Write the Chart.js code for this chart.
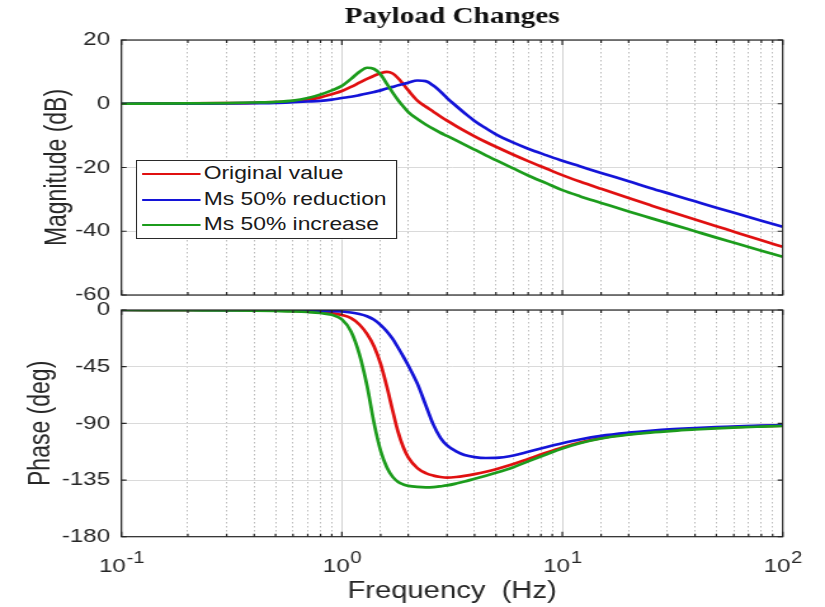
<!DOCTYPE html>
<html>
<head>
<meta charset="utf-8">
<title>Payload Changes</title>
<script src="https://cdn.jsdelivr.net/npm/chart.js@4.4.1/dist/chart.umd.min.js"></script>
<style>
  html, body { margin: 0; padding: 0; background: #fff; overflow: hidden; }
  /* figure is laid out 650px wide and stretched to 825px */
  #figure { position: absolute; left: 0; top: 0; width: 650px; height: 607px;
            transform: scaleX(1.2692); transform-origin: 0 0; }
  #magPanel { position: absolute; left: 0; top: 0; }
  #phasePanel { position: absolute; left: 0; top: 302px; }
  #legend { position: absolute; left: 107px; top: 160px; width: 206px; height: 79px;
            box-sizing: border-box; border: 1px solid #2a2a2a; background: #fff;
            font: 18px 'Liberation Sans', Arial, sans-serif; color: #1a1a1a; }
  #legend .row { position: relative; height: 25.5px; line-height: 25.5px; white-space: nowrap; }
  #legend .swatch { position: absolute; left: 3.5px; top: 12px; width: 46px; height: 2px; }
  #legend .text { position: absolute; left: 52.5px; top: 0; }
</style>
</head>
<body>
<div id="figure">
  <canvas id="magPanel" width="650" height="302"></canvas>
  <canvas id="phasePanel" width="650" height="305"></canvas>
  <div id="legend"></div>
</div>
<script>
// frequency points (Hz) and Bode response of the three payload cases
const freqHz = [0.1, 0.2, 0.3, 0.4, 0.5, 0.6, 0.7, 0.8, 0.9, 1.0,
                1.1, 1.2, 1.3, 1.4, 1.5, 1.6, 1.7, 1.8, 1.9, 2.0,
                2.2, 2.4, 2.6, 2.8, 3.0, 3.3, 3.6, 4.0, 4.5, 5.0,
                6.0, 7.0, 8.5, 10, 12, 15, 20, 25, 32, 40,
                50, 63, 80, 100];

const magOriginal = [0.0, 0.1, 0.2, 0.3, 0.5, 0.8, 1.3, 2.0, 3.0, 4.0,
                     5.3, 6.6, 7.8, 8.8, 9.6, 10.0, 9.5, 8.0, 6.1, 4.2,
                     1.0, -0.9, -2.5, -4.0, -5.3, -7.0, -8.5, -10.2, -12.0, -13.5,
                     -16.0, -18.0, -20.4, -22.4, -24.4, -26.7, -29.6, -31.8, -34.2, -36.3,
                     -38.4, -40.6, -42.8, -44.9];
const magReduced = [0.0, 0.05, 0.1, 0.2, 0.3, 0.5, 0.7, 0.9, 1.3, 1.8,
                    2.2, 2.7, 3.2, 3.7, 4.2, 4.8, 5.3, 5.8, 6.2, 6.6,
                    7.3, 7.1, 5.7, 3.8, 1.8, -0.7, -2.9, -5.4, -7.7, -9.6,
                    -12.2, -14.1, -16.2, -17.9, -19.6, -21.7, -24.3, -26.4, -28.6, -30.6,
                    -32.6, -34.6, -36.7, -38.6];
const magIncreased = [0.0, 0.1, 0.2, 0.4, 0.6, 1.0, 1.8, 2.9, 4.2, 5.6,
                      7.8, 10.0, 11.3, 10.9, 9.2, 6.2, 3.5, 1.1, -0.9, -2.6,
                      -4.8, -6.5, -7.9, -9.1, -10.1, -11.5, -12.8, -14.4, -16.2, -17.7,
                      -20.3, -22.5, -25.0, -27.1, -29.0, -31.1, -33.8, -35.8, -38.0, -40.0,
                      -42.0, -44.0, -46.1, -48.0];

const phaseOriginal = [0, -0.1, -0.2, -0.3, -0.5, -0.7, -1.0, -1.6, -2.5, -4.0,
                       -6.5, -11.5, -19, -29, -43, -61, -80, -97, -109, -117,
                       -125.5, -129.5, -131.5, -132.6, -133.1, -132.6, -131.7, -130.3, -128.4, -126.4,
                       -122.3, -118.3, -113.2, -109.2, -105.3, -101.7, -98.6, -96.8, -95.3, -94.3,
                       -93.5, -92.8, -92.2, -91.8];
const phaseReduced = [0, 0, -0.1, -0.2, -0.3, -0.4, -0.5, -0.7, -0.9, -1.2,
                      -2.0, -3.2, -5.0, -7.8, -12, -17, -23, -30, -37, -44,
                      -58.5, -75.5, -91, -101.5, -107.5, -112.3, -115.2, -116.8, -117.5, -117.4,
                      -115.5, -112.6, -108.8, -105.8, -102.8, -99.9, -97.4, -95.9, -94.6, -93.7,
                      -93.0, -92.4, -91.8, -91.4];
const phaseIncreased = [0, -0.2, -0.3, -0.5, -0.8, -1.1, -1.6, -2.4, -3.8, -7.5,
                        -17, -35, -60, -90, -112, -125, -132.5, -136.5, -138.5, -139.6,
                        -140.5, -140.8, -140.6, -140.0, -139.3, -137.8, -136.2, -134.0, -131.6, -129.3,
                        -124.8, -120.2, -114.6, -110.0, -105.8, -102.0, -99.0, -97.3, -95.9, -94.9,
                        -94.0, -93.2, -92.6, -92.1];

const seriesNames = ['Original value', 'Ms 50% reduction', 'Ms 50% increase'];
const freqRange = [0.1, 100];
const magRange = [-60, 20];
const phaseRange = [-180, 0];
const magStep = 20;
const phaseStep = 45;

const colors = { original: '#e01010', reduced: '#1414d8', increased: '#1c9c1c' };
const sans = "'Liberation Sans', Arial, sans-serif";
const ink = '#262626';

function isDecade(v) {
  const e = Math.log10(v);
  return Math.abs(e - Math.round(e)) < 1e-6;
}

function makeDatasets(a, b, c) {
  const pts = arr => freqHz.map((f, i) => ({ x: f, y: arr[i] }));
  const line = { pointRadius: 0, borderWidth: 2.7, fill: false, cubicInterpolationMode: 'monotone' };
  return [
    Object.assign({ label: seriesNames[0], data: pts(a), borderColor: colors.original, order: 3 }, line),
    Object.assign({ label: seriesNames[1], data: pts(b), borderColor: colors.reduced, order: 2 }, line),
    Object.assign({ label: seriesNames[2], data: pts(c), borderColor: colors.increased, order: 1 }, line)
  ];
}

// log frequency axis with solid decade lines and dotted minor lines
function freqAxis(height) {
  return {
    type: 'logarithmic', min: freqRange[0], max: freqRange[1],
    afterFit: s => { s.height = height; s.paddingLeft = 0; s.paddingRight = 0; },
    grid: {
      drawTicks: false, lineWidth: 1,
      color: c => (c.tick && isDecade(c.tick.value)) ? '#d4d4d4' : '#bdbdbd'
    },
    border: { display: false, dash: c => (c.tick && !isDecade(c.tick.value)) ? [1.5, 2.5] : [] },
    ticks: { display: false }
  };
}

function valueAxis(range, step, title, titlePad) {
  return {
    type: 'linear', min: range[0], max: range[1],
    afterFit: s => { s.width = 95.7; s.paddingTop = 0; s.paddingBottom = 0; },
    grid: { drawTicks: false, color: '#dadada', lineWidth: 1 },
    border: { display: false },
    ticks: { stepSize: step, padding: 9, color: ink, font: { family: sans, size: 19 } },
    title: { display: true, text: title, color: ink, font: { family: sans, size: 23 },
             padding: { top: titlePad, bottom: 0 } }
  };
}

// axes box with inward tick marks
const frame = {
  id: 'frame',
  afterDatasetsDraw(chart) {
    const { ctx, chartArea: a, scales: { x, y } } = chart;
    ctx.save();
    ctx.strokeStyle = ink;
    ctx.lineWidth = 1.2;
    ctx.beginPath();
    x.ticks.forEach(t => {
      const px = x.getPixelForValue(t.value);
      const len = isDecade(t.value) ? 5 : 3;
      ctx.moveTo(px, a.top); ctx.lineTo(px, a.top + len);
      ctx.moveTo(px, a.bottom); ctx.lineTo(px, a.bottom - len);
    });
    y.ticks.forEach(t => {
      const py = y.getPixelForValue(t.value);
      ctx.moveTo(a.left, py); ctx.lineTo(a.left + 4, py);
      ctx.moveTo(a.right, py); ctx.lineTo(a.right - 4, py);
    });
    ctx.stroke();
    ctx.strokeRect(a.left, a.top, a.right - a.left, a.bottom - a.top);
    ctx.restore();
  }
};

// 10^n labels under the decade lines
const decadeLabels = {
  id: 'decadeLabels',
  afterDraw(chart) {
    const { ctx, scales: { x } } = chart;
    ctx.save();
    ctx.fillStyle = ink;
    ctx.textBaseline = 'alphabetic';
    ctx.textAlign = 'left';
    x.ticks.filter(t => isDecade(t.value)).forEach(t => {
      const px = x.getPixelForValue(t.value);
      const exp = String(Math.round(Math.log10(t.value)));
      ctx.font = '19px ' + sans;
      const wBase = ctx.measureText('10').width;
      ctx.font = '16px ' + sans;
      const wExp = ctx.measureText(exp).width;
      const left = px - (wBase + wExp) / 2;
      ctx.font = '19px ' + sans;
      ctx.fillText('10', left, 270);
      ctx.font = '16px ' + sans;
      ctx.fillText(exp, left + wBase + 0.5, 260.5);
    });
    ctx.restore();
  }
};

const common = {
  responsive: false, animation: false, events: [],
  plugins: { legend: { display: false }, tooltip: { enabled: false } }
};

const magChart = new Chart(document.getElementById('magPanel'), {
  type: 'line',
  data: { datasets: makeDatasets(magOriginal, magReduced, magIncreased) },
  options: Object.assign({}, common, {
    layout: { padding: { left: 0, right: 33.3, top: 0, bottom: 0 } },
    plugins: Object.assign({}, common.plugins, {
      title: {
        display: true, text: 'Payload Changes', fullSize: false, color: '#111',
        font: { family: "'Liberation Serif', 'Times New Roman', serif", size: 23, weight: 'bold' },
        padding: { top: 3, bottom: 9.4 }
      }
    }),
    scales: {
      x: freqAxis(7),
      y: valueAxis(magRange, magStep, 'Magnitude (dB)', 32)
    }
  }),
  plugins: [frame]
});

const phaseX = freqAxis(70.3);
phaseX.title = { display: true, text: 'Frequency  (Hz)', color: ink,
                 font: { family: sans, size: 23 }, padding: { top: 0, bottom: 1.5 } };

new Chart(document.getElementById('phasePanel'), {
  type: 'line',
  data: { datasets: makeDatasets(phaseOriginal, phaseReduced, phaseIncreased) },
  options: Object.assign({}, common, {
    layout: { padding: { left: 0, right: 33.3, top: 8, bottom: 0 } },
    scales: {
      x: phaseX,
      y: valueAxis(phaseRange, phaseStep, 'Phase (deg)', 19)
    }
  }),
  plugins: [frame, decadeLabels]
});

// legend box inside the magnitude panel, built from the chart's datasets
const legend = document.getElementById('legend');
magChart.data.datasets.forEach(ds => {
  const row = document.createElement('div');
  row.className = 'row';
  const sw = document.createElement('div');
  sw.className = 'swatch';
  sw.style.background = ds.borderColor;
  const label = document.createElement('div');
  label.className = 'text';
  label.textContent = ds.label;
  row.appendChild(sw);
  row.appendChild(label);
  legend.appendChild(row);
});
</script>
</body>
</html>
